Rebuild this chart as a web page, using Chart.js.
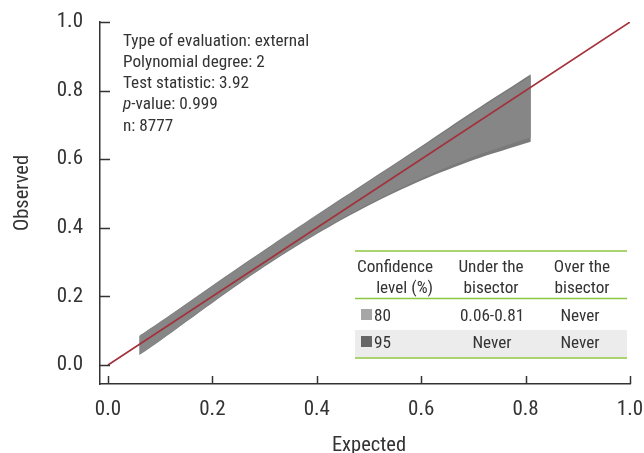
<!DOCTYPE html>
<html>
<head>
<meta charset="utf-8">
<script src="https://cdn.jsdelivr.net/npm/chart.js@4.4.1/dist/chart.umd.min.js"></script>
<style>
html,body{margin:0;padding:0;background:#fff;}
canvas{display:block;}
</style>
</head>
<body>
<canvas id="c" width="644" height="453"></canvas>
<script>
// ---- data ----
const beltX   = [0.06, 0.10, 0.20, 0.30, 0.40, 0.50, 0.60, 0.70, 0.81];
const upper95 = [0.085, 0.126, 0.232, 0.336, 0.438, 0.538, 0.638, 0.740, 0.848];
const lower95 = [0.029, 0.071, 0.181, 0.287, 0.382, 0.466, 0.538, 0.598, 0.651];
const upper80 = [0.084, 0.125, 0.230, 0.334, 0.436, 0.535, 0.634, 0.735, 0.842];
const lower80 = [0.030, 0.072, 0.183, 0.289, 0.385, 0.470, 0.544, 0.607, 0.664];
const bisectorX = [0, 1];
const bisectorY = [0, 1];
const tickValues = [0, 0.2, 0.4, 0.6, 0.8, 1.0];
const xTitle = 'Expected';
const yTitle = 'Observed';
const infoLines = [
  ['', 'Type of evaluation: external'],
  ['', 'Polynomial degree: 2'],
  ['', 'Test statistic: 3.92'],
  ['p', '-value: 0.999'],
  ['', 'n: 8777']
];
const tableHead1 = ['Confidence', 'Under the', 'Over the'];
const tableHead2 = ['level (%)', 'bisector', 'bisector'];
const confLevels = ['80', '95'];
const underBisector = ['0.06-0.81', 'Never'];
const overBisector = ['Never', 'Never'];

// ---- styles ----
const FONT = "'Roboto Condensed', 'Liberation Sans Narrow', 'DejaVu Sans Condensed', 'Liberation Sans', sans-serif";
const TEXT = '#333333';
const C95 = '#7a7a7a';
const C80 = '#868686';
const LEG80 = '#a6a6a6';
const LEG95 = '#666666';
const GREEN = '#8dc63f';

const pts = (xs, ys) => xs.map((x, i) => ({x: x, y: ys[i]}));

const decor = {
  id: 'decor',
  afterDraw(chart) {
    const ctx = chart.ctx;
    const xs = chart.scales.x, ys = chart.scales.y;
    const a = chart.chartArea;
    ctx.save();
    // inward tick marks
    ctx.strokeStyle = TEXT; ctx.lineWidth = 1.5;
    tickValues.forEach(v => {
      const py = Math.round(ys.getPixelForValue(v)) + 0.5;
      ctx.beginPath(); ctx.moveTo(a.left, py); ctx.lineTo(a.left + 10, py); ctx.stroke();
      const px = Math.round(xs.getPixelForValue(v)) + 0.5;
      ctx.beginPath(); ctx.moveTo(px, a.bottom); ctx.lineTo(px, a.bottom - 8); ctx.stroke();
    });
    // axis titles
    ctx.fillStyle = TEXT;
    ctx.font = '20.5px ' + FONT;
    ctx.textAlign = 'center'; ctx.textBaseline = 'alphabetic';
    ctx.fillText(xTitle, (a.left + a.right) / 2 + 4, 451);
    ctx.save();
    ctx.translate(28, 193); ctx.rotate(-Math.PI / 2);
    ctx.fillText(yTitle, 0, 0);
    ctx.restore();
    // info text
    const FS = '17.2px ';
    ctx.font = FS + FONT;
    ctx.textAlign = 'left';
    const base = [46, 67, 88, 109, 131];
    infoLines.forEach((ln, i) => {
      let x = 123;
      if (ln[0]) {
        ctx.font = 'italic ' + FS + FONT;
        ctx.fillText(ln[0], x, base[i]);
        x += ctx.measureText(ln[0]).width;
        ctx.font = FS + FONT;
      }
      ctx.fillText(ln[1], x, base[i]);
    });
    // table
    const L = 355, R = 627;
    ctx.fillStyle = '#ececec';
    ctx.fillRect(L, 330, R - L, 27);
    ctx.strokeStyle = GREEN; ctx.lineWidth = 1.5;
    [251, 298.5, 358].forEach(y => {
      ctx.beginPath(); ctx.moveTo(L, y); ctx.lineTo(R, y); ctx.stroke();
    });
    ctx.fillStyle = TEXT;
    ctx.font = FS + FONT;
    ctx.textAlign = 'right';
    ctx.fillText(tableHead1[0], 433, 272);
    ctx.fillText(tableHead2[0], 433, 293);
    ctx.textAlign = 'center';
    ctx.fillText(tableHead1[1], 491, 272);
    ctx.fillText(tableHead2[1], 491, 293);
    ctx.fillText(tableHead1[2], 582, 272);
    ctx.fillText(tableHead2[2], 582, 293);
    const rowBase = [321, 348];
    const legCols = [LEG80, LEG95];
    confLevels.forEach((lv, i) => {
      ctx.fillStyle = legCols[i];
      ctx.fillRect(361, rowBase[i] - 12, 11, 11);
      ctx.fillStyle = TEXT;
      ctx.textAlign = 'left';
      ctx.fillText(lv, 374, rowBase[i]);
      ctx.textAlign = 'center';
      ctx.fillText(underBisector[i], 492, rowBase[i]);
      ctx.fillText(overBisector[i], 580, rowBase[i]);
    });
    ctx.restore();
  }
};

const tickCb = v => Number(v).toFixed(1);
const setTicks = s => { s.ticks = tickValues.map(v => ({value: v})); };

new Chart(document.getElementById('c'), {
  type: 'line',
  data: {
    datasets: [
      {label: 'bisector', data: pts(bisectorX, bisectorY), borderColor: '#a3313b', borderWidth: 1.6,
       pointRadius: 0, fill: false, order: 0},
      {label: 'u80', data: pts(beltX, upper80), borderWidth: 0, borderColor: C80, pointRadius: 0,
       fill: '+1', backgroundColor: C80, order: 1},
      {label: 'l80', data: pts(beltX, lower80), borderWidth: 0, borderColor: C80, pointRadius: 0,
       fill: false, order: 1},
      {label: 'u95', data: pts(beltX, upper95), borderWidth: 0, borderColor: C95, pointRadius: 0,
       fill: '+1', backgroundColor: C95, order: 2},
      {label: 'l95', data: pts(beltX, lower95), borderWidth: 0, borderColor: C95, pointRadius: 0,
       fill: false, order: 2}
    ]
  },
  options: {
    responsive: false,
    animation: false,
    devicePixelRatio: 1,
    layout: {padding: {left: 0, right: 14, top: 22, bottom: 0}},
    plugins: {legend: {display: false}, tooltip: {enabled: false}},
    elements: {line: {tension: 0.3}},
    scales: {
      x: {
        type: 'linear', min: -0.0153, max: 1.0,
        afterBuildTicks: setTicks,
        afterFit: s => { s.height = 69; s.paddingLeft = 0; s.paddingRight = 0; },
        grid: {display: false, drawTicks: false},
        border: {display: true, color: TEXT, width: 1.5},
        ticks: {callback: tickCb, color: TEXT, padding: 13, maxRotation: 0,
                font: {family: FONT, size: 21}}
      },
      y: {
        type: 'linear', min: -0.0554, max: 1.0,
        afterBuildTicks: setTicks,
        afterFit: s => { s.width = 100; s.paddingTop = 0; s.paddingBottom = 0; },
        grid: {display: false, drawTicks: false},
        border: {display: true, color: TEXT, width: 1.5},
        ticks: {callback: tickCb, color: TEXT, padding: 17,
                font: {family: FONT, size: 21}}
      }
    }
  },
  plugins: [decor]
});
</script>
</body>
</html>
